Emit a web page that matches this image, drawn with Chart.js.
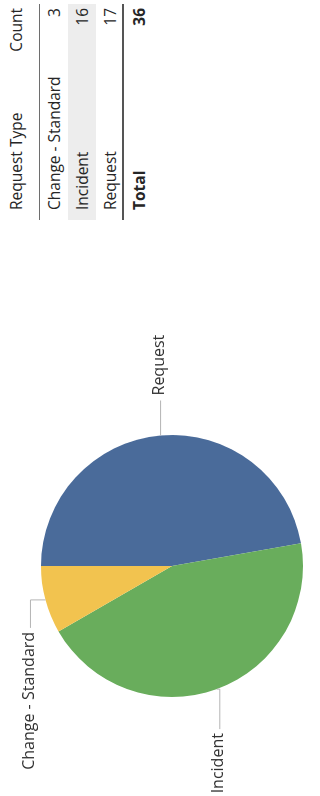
<!DOCTYPE html>
<html>
<head>
<meta charset="utf-8">
<script src="https://cdn.jsdelivr.net/npm/chart.js@4.4.1/dist/chart.umd.min.js"></script>
<style>
  html, body { margin: 0; padding: 0; background: #fff; width: 320px; height: 796px; overflow: hidden; }
  #page {
    position: absolute; left: 0; top: 0; width: 796px; height: 320px;
    transform-origin: 0 0; transform: translateY(796px) rotate(-90deg);
    font-family: "Open Sans", "Noto Sans", sans-serif; color: #262626;
  }
  #chartBox { position: absolute; left: 0; top: 0; width: 560px; height: 320px; }
  #tbl { position: absolute; left: 576px; top: 0; width: 216px; font-size: 15.5px; }
  .row { display: flex; justify-content: space-between; box-sizing: border-box; padding: 0 4px 0 10px; }
  .hdr { height: 40px; line-height: 32px; border-bottom: 1px solid #6e6e6e; }
  .r { height: 28px; line-height: 28px; }
  .shade { background: #ededed; }
  .last { border-bottom: 2px solid #555; }
  .tot { height: 28px; line-height: 30px; font-weight: 700; }
</style>
</head>
<body>
<div id="page">
  <div id="chartBox"><canvas id="c" width="560" height="320"></canvas></div>
  <div id="tbl"></div>
</div>
<script>
const categories = ['Change - Standard', 'Incident', 'Request'];
const counts = [3, 16, 17];
const totalCount = 36;
const headerLabels = ['Request Type', 'Count'];
const totalLabel = 'Total';
const sliceColors = { 'Change - Standard': '#f2c34f', 'Incident': '#69ad5c', 'Request': '#4a6b9a' };

// table
const tbl = document.getElementById('tbl');
function addRow(cls, a, b) {
  const d = document.createElement('div');
  d.className = 'row ' + cls;
  const s1 = document.createElement('span'); s1.textContent = a;
  const s2 = document.createElement('span'); s2.textContent = b;
  d.appendChild(s1); d.appendChild(s2); tbl.appendChild(d);
}
addRow('hdr', headerLabels[0], headerLabels[1]);
categories.forEach((c, i) => {
  let cls = 'r';
  if (i === 1) cls += ' shade';
  if (i === categories.length - 1) cls += ' last';
  addRow(cls, c, String(counts[i]));
});
addRow('tot', totalLabel, String(totalCount));

// chart order: clockwise from top
const order = [2, 1, 0];
const pieLabels = order.map(i => categories[i]);
const pieValues = order.map(i => counts[i]);

const leaderSpec = {
  'Request': { rise: 0, run: 35, gap: 5 },
  'Incident': { rise: -3, run: 40, gap: 4 },
  'Change - Standard': { rise: 15, run: 28, gap: 4 }
};

const labelPlugin = {
  id: 'leaderLabels',
  afterDatasetsDraw(chart) {
    const ctx = chart.ctx;
    const meta = chart.getDatasetMeta(0);
    ctx.save();
    ctx.font = '16px "Open Sans"';
    ctx.fillStyle = '#333';
    ctx.strokeStyle = '#b4b4b4';
    ctx.lineWidth = 1;
    meta.data.forEach((arc, i) => {
      const p = arc.getProps(['x', 'y', 'startAngle', 'endAngle', 'outerRadius'], true);
      const mid = (p.startAngle + p.endAngle) / 2;
      const px = p.x + Math.cos(mid) * p.outerRadius;
      const py = p.y + Math.sin(mid) * p.outerRadius;
      const dir = Math.cos(mid) >= 0 ? 1 : -1;
      const s = leaderSpec[pieLabels[i]];
      ctx.beginPath();
      ctx.moveTo(px, py);
      ctx.lineTo(px, py - s.rise);
      ctx.lineTo(px + dir * s.run, py - s.rise);
      ctx.stroke();
      ctx.textAlign = dir > 0 ? 'left' : 'right';
      ctx.textBaseline = 'middle';
      ctx.fillText(pieLabels[i], px + dir * (s.run + s.gap), py - s.rise - 1);
    });
    ctx.restore();
  }
};

function build() {
  new Chart(document.getElementById('c'), {
    type: 'pie',
    data: {
      labels: pieLabels,
      datasets: [{
        data: pieValues,
        backgroundColor: pieLabels.map(l => sliceColors[l]),
        borderWidth: 0
      }]
    },
    options: {
      responsive: false,
      animation: false,
      rotation: 0,
      layout: { padding: { top: 41, bottom: 17, left: 99, right: 199 } },
      plugins: { legend: { display: false }, tooltip: { enabled: false } }
    },
    plugins: [labelPlugin]
  });
}
if (document.fonts && document.fonts.load) {
  document.fonts.load('16px "Open Sans"').then(build, build);
} else { build(); }
</script>
</body>
</html>
